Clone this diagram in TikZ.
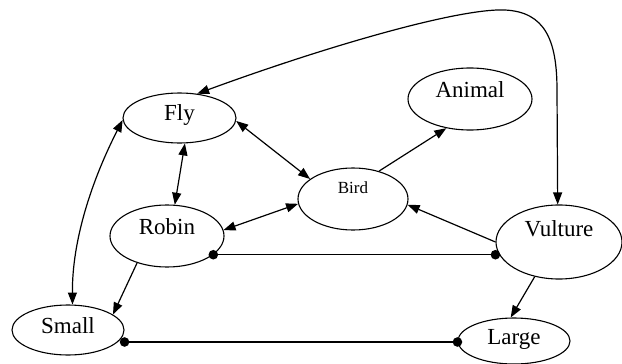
\documentclass[tikz,border=0pt]{standalone}
\usepackage{fontspec}
\setmainfont{Liberation Serif}
\usetikzlibrary{arrows.meta,shapes.geometric}
\begin{document}
\begin{tikzpicture}[x=1pt,y=-1pt,
  ell/.style={ellipse,draw,line width=1.1pt,inner sep=0pt,font=\fontsize{23}{25}\selectfont},
  edge/.style={line width=1.2pt},
  >={Triangle[length=12pt,width=9pt]},
  dotmark/.style={fill=black}]
\useasboundingbox (0,0) rectangle (622,364);
\node[ell,minimum width=113pt,minimum height=50pt,text height=6pt,text depth=2pt] (fly) at (179.5,118) {Fly};
\node[ell,minimum width=124pt,minimum height=62pt,text height=2pt,text depth=6pt] (animal) at (470,99) {Animal};
\node[ell,minimum width=110pt,minimum height=62pt,text height=0pt,text depth=12pt,font=\fontsize{17}{19}\selectfont] (bird) at (353,199) {Bird};
\node[ell,minimum width=114pt,minimum height=62pt,text height=2pt,text depth=6pt] (robin) at (167,236) {Robin};
\node[ell,minimum width=126pt,minimum height=74pt,text height=0pt,text depth=12pt] (vulture) at (559,242) {Vulture};
\node[ell,minimum width=112pt,minimum height=50pt,text height=6pt,text depth=0pt] (small) at (68,330) {Small};
\node[ell,minimum width=112pt,minimum height=46pt,text height=6pt,text depth=0pt] (large) at (514,341) {Large};

\draw[edge,<->] (fly.-3) -- (bird.155);
\draw[edge,<->] (fly.-78) -- (robin.76);
\draw[edge,<->] (robin.6) -- (bird.185);
\draw[edge,->] (bird.47) -- (animal.231);
\draw[edge,->] (vulture.west) -- (bird.-6);
\draw[edge,->] (vulture.235) -- (large.98);
\draw[edge,->] (robin.222) -- (small.19);
\draw[edge,<->] (fly.182) .. controls (92,180) and (72,240) .. (small.80);
\draw[edge,<->] (fly.54) .. controls (330,45) and (460,8) .. (505,10) .. controls (545,12) and (557,40) .. (557,90) -- (vulture.92);

\coordinate (rd) at (robin.-22);
\coordinate (vd) at (rd -| vulture.west);
\coordinate (sd) at ([yshift=-12pt]small.east);
\coordinate (ld) at (sd -| large.west);
\draw[edge] (rd) -- (vd);
\draw[edge] (sd) -- (ld);
\fill[dotmark] (rd) circle (4.8pt) (vd) circle (4.8pt) (sd) circle (4.8pt) (ld) circle (4.8pt);
\end{tikzpicture}
\end{document}
